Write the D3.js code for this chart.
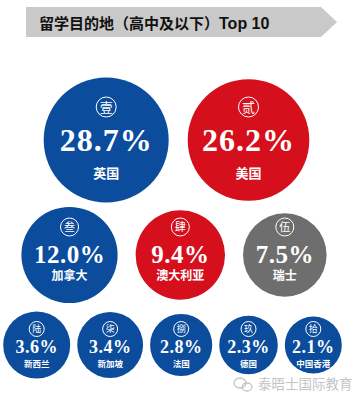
<!DOCTYPE html>
<html>
<head>
<meta charset="utf-8">
<script src="https://cdn.jsdelivr.net/npm/d3@7"></script>
<style>
  html, body { margin: 0; padding: 0; background: #fff; }
  svg { display: block; }
</style>
</head>
<body>
<svg id="chart"></svg>
<script>
// 留学目的地 Top 10
const TITLE_CN = "留学目的地（高中及以下）";
const TITLE_EN = "Top 10";
const ranks = ["壹", "贰", "叁", "肆", "伍", "陆", "柒", "捌", "玖", "拾"];
const countries = ["英国", "美国", "加拿大", "澳大利亚", "瑞士", "新西兰", "新加坡", "法国", "德国", "中国香港"];
const shares = [28.7, 26.2, 12.0, 9.4, 7.5, 3.6, 3.4, 2.8, 2.3, 2.1];
const WATERMARK = "泰晤士国际教育";

const W = 362, H = 402;
const BLUE = "#0b4c9c", RED = "#d50f1c", GRAY = "#6e6e6e";

// rows of bubbles: how many, vertical centre, gap, text settings
const rows = [
  { n: 2, y: 140, cx: 176.5, gap: 19, pct: 32, pctDy: 11, badgeR: 10, badgeDy: -33, badgeFs: 13, lab: 13, labDy: 33 },
  { n: 3, y: 255, cx: 174,   gap: 18, pct: 25, pctDy: 8,  badgeR: 9,  badgeDy: -28, badgeFs: 11, lab: 12, labDy: 21 },
  { n: 5, y: 345, cx: 172.5, gap: 7,  pct: 18, pctDy: 8,  badgeR: 7.5, badgeDy: -16, badgeFs: 9, lab: 8.5, labDy: 19 }
];

const svg = d3.select("#chart").attr("width", W).attr("height", H);

// ==== title banner ====
svg.append("path")
  .attr("d", "M26,7 L321,7 L337,22 L321,37 L26,37 Z")
  .attr("fill", "#c9c9c9");
const title = svg.append("text")
  .attr("x", 39).attr("y", 29)
  .attr("font-weight", "bold")
  .attr("font-size", 15)
  .attr("fill", "#111");
title.append("tspan")
  .attr("font-family", "'Noto Sans CJK SC', sans-serif")
  .text(TITLE_CN);
title.append("tspan")
  .attr("font-family", "'Liberation Sans', Arial, 'DejaVu Sans', sans-serif")
  .attr("font-size", 16)
  .text(TITLE_EN);

// ==== bubbles ====
const rScale = d3.scalePow().exponent(0.3)
  .domain([d3.min(shares), d3.max(shares)])
  .range([28.5, 62.5]);

// only the top five get their own colour, the rest are blue
const color = d3.scaleOrdinal()
  .domain(countries.slice(0, 5))
  .range([BLUE, RED, BLUE, RED, GRAY])
  .unknown(BLUE);

const fmt = d3.format(".1f");

const nodes = countries.map((c, i) => ({ name: c, rank: ranks[i], v: shares[i], r: rScale(shares[i]) }));

// pack each row horizontally, centred on row.cx
let k = 0;
rows.forEach((row, ri) => {
  const items = nodes.slice(k, k + row.n);
  k += row.n;
  const total = d3.sum(items, d => 2 * d.r) + row.gap * (items.length - 1);
  let x = row.cx - total / 2;
  items.forEach(d => {
    d.x = x + d.r;
    d.y = row.y;
    d.row = ri;
    x += 2 * d.r + row.gap;
  });
});

const g = svg.selectAll("g.bubble")
  .data(nodes)
  .join("g")
  .attr("class", "bubble")
  .attr("transform", d => `translate(${d.x},${d.y})`);

g.append("circle")
  .attr("r", d => d.r)
  .attr("fill", d => color(d.name));

g.append("circle")
  .attr("cy", d => rows[d.row].badgeDy)
  .attr("r", d => rows[d.row].badgeR)
  .attr("fill", "none")
  .attr("stroke", "#fff")
  .attr("stroke-width", 1);

g.append("text")
  .attr("y", d => rows[d.row].badgeDy)
  .attr("dy", "0.36em")
  .attr("text-anchor", "middle")
  .attr("font-family", "'Noto Sans CJK SC', sans-serif")
  .attr("font-size", d => rows[d.row].badgeFs)
  .attr("fill", "#fff")
  .text(d => d.rank);

g.append("text")
  .attr("y", d => rows[d.row].pctDy)
  .attr("text-anchor", "middle")
  .attr("font-family", "'Liberation Serif', 'DejaVu Serif', serif")
  .attr("font-weight", "bold")
  .attr("font-size", d => rows[d.row].pct)
  .attr("letter-spacing", d => d.row === 0 ? 1 : 0.5)
  .attr("fill", "#fff")
  .text(d => fmt(d.v) + "%");

g.append("text")
  .attr("y", d => rows[d.row].labDy)
  .attr("dy", "0.36em")
  .attr("text-anchor", "middle")
  .attr("font-family", "'Noto Sans CJK SC', sans-serif")
  .attr("font-weight", "bold")
  .attr("font-size", d => rows[d.row].lab)
  .attr("fill", "#fff")
  .text(d => d.name);

// ==== watermark ====
const wm = svg.append("g").attr("transform", "translate(242,384)");
wm.append("ellipse").attr("cx", -2).attr("cy", -1).attr("rx", 6).attr("ry", 5)
  .attr("fill", "none").attr("stroke", "#c4c4c4").attr("stroke-width", 1.3);
wm.append("ellipse").attr("cx", 5).attr("cy", 3).attr("rx", 5).attr("ry", 4)
  .attr("fill", "none").attr("stroke", "#c4c4c4").attr("stroke-width", 1.3);
svg.append("text")
  .attr("x", 258).attr("y", 389)
  .attr("font-family", "'Noto Sans CJK SC', sans-serif")
  .attr("font-size", 13.5)
  .attr("fill", "#c4c4c4")
  .text(WATERMARK);
</script>
</body>
</html>
